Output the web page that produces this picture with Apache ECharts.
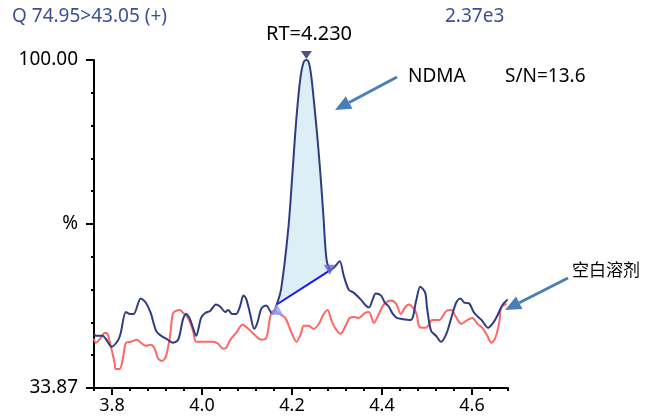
<!DOCTYPE html>
<html>
<head>
<meta charset="utf-8">
<script src="https://cdn.jsdelivr.net/npm/echarts@6/dist/echarts.min.js"></script>
<style>
  html, body { margin: 0; padding: 0; background: #fff; }
  #chart { width: 653px; height: 418px; }
</style>
</head>
<body>
<div id="chart"></div>
<script>
// 样品 (NDMA) 色谱图
var sampleTime = [3.760,3.764,3.779,3.786,3.799,3.813,3.819,3.831,3.840,3.848,
  3.864,3.875,3.886,3.898,3.909,3.924,3.935,3.947,3.958,3.965,
  3.973,3.980,3.987,3.998,4.007,4.018,4.031,4.040,4.052,4.058,
  4.067,4.076,4.085,4.092,4.098,4.107,4.116,4.123,4.132,4.143,
  4.150,4.156,4.166,4.176,4.192,4.201,4.210,4.219,4.226,4.232,
  4.237,4.243,4.255,4.263,4.270,4.277,4.286,4.295,4.306,4.315,
  4.326,4.337,4.353,4.364,4.371,4.380,4.386,4.398,4.406,4.415,
  4.424,4.433,4.444,4.464,4.476,4.485,4.496,4.500,4.509,4.520,
  4.531,4.543,4.554,4.565,4.574,4.583,4.594,4.605,4.621,4.636,
  4.647,4.656,4.667,4.679];
var sampleValue = [44.8,44.4,44.4,43.8,42.2,43.4,44.8,49.2,48.8,48.8,
  51.9,51.1,49.0,45.4,44.4,43.6,43.0,43.6,47.8,48.8,
  47.8,46.0,44.4,48.0,49.0,49.4,50.7,50.3,49.2,49.6,
  48.8,48.8,50.5,52.5,51.9,48.8,45.8,47.0,49.9,50.5,
  49.6,48.8,50.7,53.9,66.2,77.2,88.5,96.6,99.6,100,
  99.6,96.6,85.8,77.2,68.3,59.6,57.7,58.3,59.4,56.5,
  53.7,53.1,51.7,50.5,50.1,51.9,52.9,52.5,51.1,50.3,
  48.8,48.0,47.8,47.6,51.5,54.3,53.1,50.1,45.4,44.4,
  43.2,44.8,48.0,51.1,51.9,51.1,50.9,49.0,47.6,46.0,
  47.0,48.4,50.5,51.7];

// 空白溶剂
var blankTime = [3.760,3.764,3.775,3.784,3.790,3.797,3.806,3.808,3.817,3.824,
  3.831,3.842,3.855,3.864,3.875,3.886,3.895,3.902,3.911,3.920,
  3.929,3.935,3.942,3.951,3.958,3.969,3.980,3.987,4.002,4.025,
  4.036,4.047,4.054,4.063,4.076,4.090,4.103,4.119,4.132,4.143,
  4.152,4.159,4.172,4.185,4.199,4.210,4.219,4.226,4.237,4.248,
  4.261,4.268,4.279,4.288,4.297,4.308,4.319,4.328,4.339,4.348,
  4.362,4.371,4.382,4.393,4.404,4.420,4.431,4.442,4.451,4.460,
  4.476,4.482,4.489,4.498,4.505,4.511,4.527,4.543,4.554,4.563,
  4.576,4.590,4.601,4.612,4.623,4.634,4.643,4.652,4.661,4.665,
  4.677];
var blankValue = [43.8,43.0,44.0,45.0,44.8,42.4,38.9,37.7,37.7,39.7,
  43.0,43.2,43.6,43.0,42.4,42.6,41.8,39.9,39.3,40.3,
  44.4,48.8,49.4,49.6,49.0,48.0,45.4,43.2,43.2,43.2,
  42.8,41.8,42.0,43.6,45.0,46.6,45.8,44.4,43.6,44.0,
  48.4,49.4,48.8,48.0,45.0,43.2,44.6,46.4,46.4,45.8,
  47.0,48.4,49.6,47.4,45.8,44.8,46.4,48.0,48.2,48.0,
  49.0,49.2,47.0,48.8,50.7,51.5,50.9,48.8,50.1,50.7,
  49.0,46.4,46.0,46.0,46.8,47.6,47.6,49.4,49.6,48.4,
  46.8,47.6,48.0,46.8,46.0,44.4,43.0,44.0,47.4,50.1,
  50.9];

// 峰积分范围
var peakStart = 4.166;
var peakApex = 4.232;
var peakEnd = 4.286;

var xMin = 3.76, xMax = 4.68;
var yMin = 33.87, yMax = 100;
var xLabelTicks = [3.8, 4.0, 4.2, 4.4, 4.6];
var yLabelTicks = [33.87, (33.87 + 100) / 2, 100];
var yLabelText = ['33.87', '%', '100.00'];

var FONT = '"Noto Sans", "Open Sans", sans-serif';
var CJK = '"Noto Sans CJK SC", sans-serif';

function pairs(t, v) {
  var out = [];
  for (var i = 0; i < t.length; i++) out.push([t[i], v[i]]);
  return out;
}
function valueAt(t) {
  return sampleValue[sampleTime.indexOf(t)];
}

var sampleData = pairs(sampleTime, sampleValue);
var blankData = pairs(blankTime, blankValue);
var peakData = sampleData.filter(function (p) { return p[0] >= peakStart && p[0] <= peakEnd; });

var yMinorTicks = [];
for (var k = 0; k <= 10; k++) yMinorTicks.push(yMin + k * (yMax - yMin) / 10);

// 箭头
function arrow(x1, y1, x2, y2, color) {
  var dx = x2 - x1, dy = y2 - y1, len = Math.sqrt(dx * dx + dy * dy);
  var ux = dx / len, uy = dy / len, head = 16, half = 7;
  var bx = x2 - ux * head, by = y2 - uy * head;
  return {
    type: 'group',
    children: [
      { type: 'line', shape: { x1: x1, y1: y1, x2: bx, y2: by }, style: { stroke: color, lineWidth: 3 } },
      { type: 'polygon', shape: { points: [[x2, y2], [bx - uy * half, by + ux * half], [bx + uy * half, by - ux * half]] }, style: { fill: color } }
    ]
  };
}

function txt(s, x, y, color, size, family, align) {
  return {
    type: 'text',
    style: { text: s, x: x, y: y, fill: color, font: size + 'px ' + family, textAlign: align || 'left', textVerticalAlign: 'middle' }
  };
}

var chart = echarts.init(document.getElementById('chart'));
var axisColor = '#000';

var option = {
  animation: false,
  grid: { left: 94, right: 145, top: 60, bottom: 30 },
  xAxis: [
    {
      type: 'value', min: xMin, max: xMax, interval: 0.04,
      axisLine: { lineStyle: { color: axisColor, width: 2 } },
      axisTick: { length: 3, lineStyle: { color: axisColor, width: 2 } },
      axisLabel: { show: false },
      splitLine: { show: false }
    },
    {
      type: 'value', min: xMin, max: xMax, position: 'bottom',
      axisLine: { show: false },
      axisTick: { customValues: xLabelTicks, length: 7, lineStyle: { color: axisColor, width: 2 } },
      axisLabel: {
        customValues: xLabelTicks, margin: 9, color: '#000', fontSize: 18, fontFamily: FONT,
        formatter: function (v) { return v.toFixed(1); }
      },
      splitLine: { show: false }
    }
  ],
  yAxis: [
    {
      type: 'value', min: yMin, max: yMax,
      axisLine: { show: true, lineStyle: { color: axisColor, width: 2 } },
      axisTick: { show: true, customValues: yMinorTicks, length: 3, lineStyle: { color: axisColor, width: 2 } },
      axisLabel: { show: false },
      splitLine: { show: false }
    },
    {
      type: 'value', min: yMin, max: yMax, position: 'left',
      axisLine: { show: false },
      axisTick: { show: true, customValues: yLabelTicks, length: 8, lineStyle: { color: axisColor, width: 2 } },
      axisLabel: {
        customValues: yLabelTicks, margin: 16, color: '#000', fontSize: 19, fontFamily: FONT,
        formatter: function (v) {
          var i = yLabelTicks.indexOf(v);
          return yLabelText[i];
        }
      },
      splitLine: { show: false }
    }
  ],
  series: [
    {
      // 峰面积
      type: 'custom',
      data: [0],
      silent: true,
      z: 1,
      renderItem: function (params, api) {
        var pts = peakData.map(function (p) { return api.coord(p); });
        return { type: 'polygon', shape: { points: pts }, style: { fill: '#ddeef6' } };
      }
    },
    {
      name: '空白溶剂',
      type: 'line',
      data: blankData,
      showSymbol: false,
      smooth: 0.3,
      z: 2,
      lineStyle: { color: '#ff6666', width: 2 }
    },
    {
      // 基线
      type: 'line',
      data: [[peakStart, valueAt(peakStart)], [peakEnd, valueAt(peakEnd)]],
      showSymbol: false,
      z: 3,
      lineStyle: { color: '#1515ff', width: 2 }
    },
    {
      name: 'NDMA',
      type: 'line',
      data: sampleData,
      showSymbol: false,
      smooth: 0.3,
      z: 4,
      lineStyle: { color: '#2e3d82', width: 2 }
    },
    {
      // 峰标记
      type: 'scatter',
      z: 5,
      data: [
        { value: [peakApex, valueAt(peakApex)], symbolRotate: 180, symbolSize: [11, 8], symbolOffset: [0, -5], itemStyle: { color: '#1b2a5e' } },
        { value: [peakStart, valueAt(peakStart)], symbolRotate: 0, symbolSize: [13, 11], symbolOffset: [0, 5], itemStyle: { color: '#8e9cf2' } },
        { value: [peakEnd, valueAt(peakEnd)], symbolRotate: 180, symbolSize: [12, 10], symbolOffset: [-1, 0], itemStyle: { color: '#6565dc' } }
      ],
      symbol: 'triangle'
    }
  ],
  graphic: [
    txt('Q 74.95>43.05 (+)', 12, 17, '#3a4f96', 19, FONT),
    txt('2.37e3', 445, 17, '#3a4f96', 19, FONT),
    txt('RT=4.230', 309, 34, '#000', 20, FONT, 'center'),
    txt('NDMA', 408, 77, '#000', 19, FONT),
    txt('S/N=13.6', 505, 77, '#000', 19, FONT),
    txt('空白溶剂', 572, 270, '#000', 17, CJK),
    arrow(397, 77, 335, 110, '#4a7ebb'),
    arrow(568, 278, 505, 310, '#4a7ebb')
  ]
};

chart.setOption(option);
</script>
</body>
</html>
